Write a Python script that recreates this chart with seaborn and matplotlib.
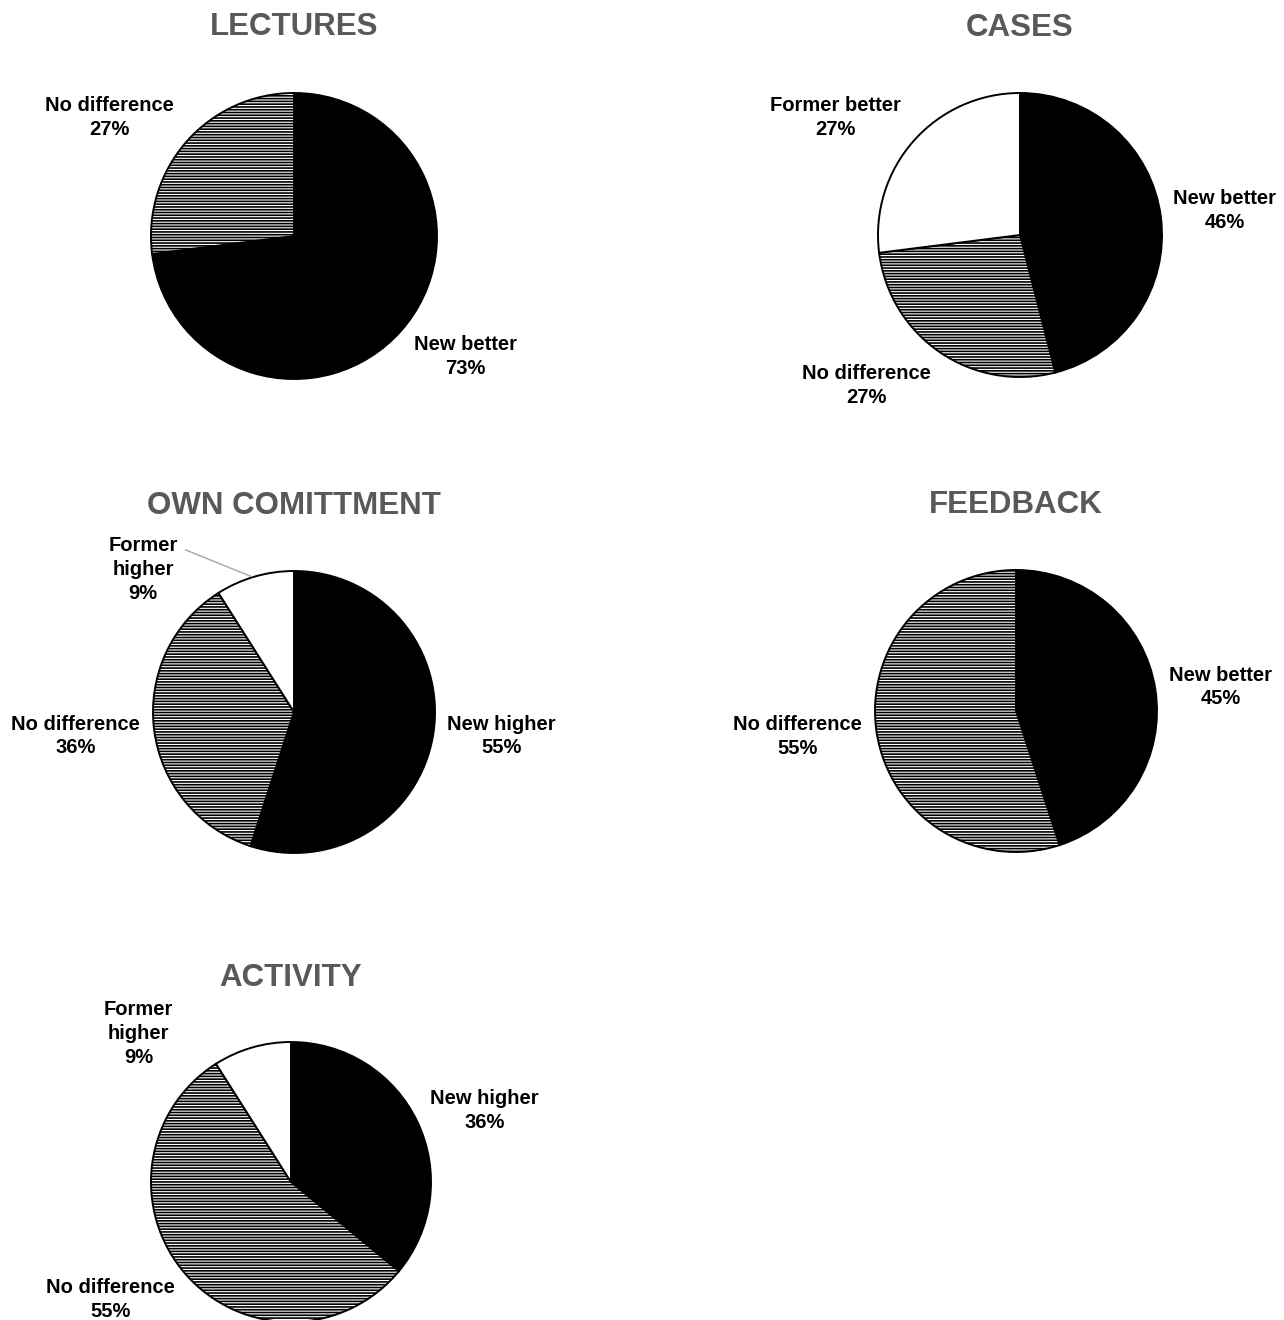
import matplotlib
matplotlib.use("Agg")
import matplotlib.pyplot as plt
import seaborn as sns

sns.set_theme(style="white")
plt.rcParams['font.family'] = ['Liberation Sans', 'DejaVu Sans']
plt.rcParams['hatch.linewidth'] = 1.2
plt.rcParams['hatch.color'] = 'black'

# ---- data ----
titles = ["LECTURES", "CASES", "OWN COMITTMENT", "FEEDBACK", "ACTIVITY"]
lectures_labels = ["New better", "No difference"]
lectures_values = [73, 27]
cases_labels = ["New better", "No difference", "Former better"]
cases_values = [46, 27, 27]
own_labels = ["New higher", "No difference", "Former higher"]
own_values = [55, 36, 9]
feedback_labels = ["New better", "No difference"]
feedback_values = [45, 55]
activity_labels = ["New higher", "No difference", "Former higher"]
activity_values = [36, 55, 9]

W, H = 1284, 1320
fig = plt.figure(figsize=(W / 100, H / 100), dpi=100)

# layout: (center x px, center y px, radius px)
layout = [(294, 236, 143), (1020, 235, 142), (294, 712, 141), (1016, 711, 141), (291, 1182, 140)]
# label positions in pie-radius units, per category key
label_pos = [
    {"New better": (1.20, -0.84), "No difference": (-1.29, 0.83)},
    {"New better": (1.44, 0.17), "No difference": (-1.08, -1.06), "Former better": (-1.30, 0.83)},
    {"New higher": (1.47, -0.17), "No difference": (-1.55, -0.17), "Former higher": (-1.07, 1.01)},
    {"New better": (1.45, 0.17), "No difference": (-1.55, -0.18)},
    {"New higher": (1.38, 0.51), "No difference": (-1.29, -0.84), "Former higher": (-1.09, 1.06)},
]
styles = {
    "New": dict(facecolor="black", hatch=None),
    "No": dict(facecolor="white", hatch="------"),
    "Former": dict(facecolor="white", hatch=None),
}

datasets = [
    (lectures_labels, lectures_values),
    (cases_labels, cases_values),
    (own_labels, own_values),
    (feedback_labels, feedback_values),
    (activity_labels, activity_values),
]

k = 2.0
for i, ((labels, values), (cx, cy, r), title) in enumerate(zip(datasets, layout, titles)):
    ax = fig.add_axes([(cx - k * r) / W, (H - cy - k * r) / H, 2 * k * r / W, 2 * k * r / H])
    wedges, _ = ax.pie(values, startangle=90, counterclock=False, radius=1,
                       wedgeprops=dict(edgecolor="black", linewidth=1.4))
    for w, lab in zip(wedges, labels):
        st = styles[lab.split()[0]]
        w.set_facecolor(st["facecolor"])
        if st["hatch"]:
            w.set_hatch(st["hatch"])
    ax.set_xlim(-k, k)
    ax.set_ylim(-k, k)
    ax.set_aspect("equal")
    ax.axis("off")
    for lab, v in zip(labels, values):
        x, y = label_pos[i][lab]
        txt = lab
        if lab == "Former higher":
            txt = "Former\nhigher"
        ax.text(x, y, f"{txt}\n{v}%", ha="center", va="center", fontsize=14.5,
                fontweight="bold", color="black", linespacing=1.32, clip_on=False)
    ax.text(0, 1.46, title, ha="center", va="center", fontsize=22.5, fontweight="bold",
            color="#595959", clip_on=False)
    if title == "OWN COMITTMENT":
        ax.plot([-0.77, -0.30], [1.15, 0.96], color="#a6a6a6", linewidth=1.0, clip_on=False)

fig.savefig("out.png", dpi=100, facecolor="white")
